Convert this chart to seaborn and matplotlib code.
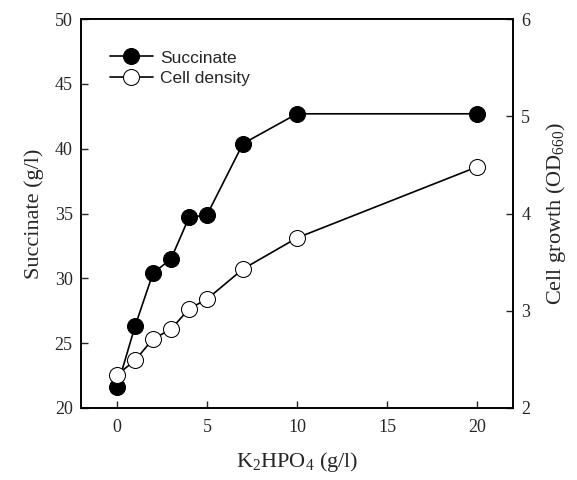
import pandas as pd
import seaborn as sns
import matplotlib.pyplot as plt

# K2HPO4 concentration (g/l)
k2hpo4 = [0, 1, 2, 3, 4, 5, 7, 10, 20]
succinate = [21.6, 26.3, 30.4, 31.5, 34.7, 34.9, 40.4, 42.7, 42.7]
cell_density = [2.34, 2.49, 2.71, 2.81, 3.02, 3.12, 3.43, 3.75, 4.48]

df = pd.DataFrame({'K2HPO4': k2hpo4, 'Succinate': succinate, 'OD': cell_density})

sns.set_style('ticks')
plt.rcParams['font.family'] = ['Liberation Serif', 'DejaVu Serif']
plt.rcParams['mathtext.fontset'] = 'custom'
plt.rcParams['mathtext.rm'] = 'Liberation Serif'
plt.rcParams['mathtext.it'] = 'Liberation Serif:italic'
plt.rcParams['mathtext.bf'] = 'Liberation Serif:bold'

fig = plt.figure(figsize=(5.77, 4.8), dpi=100)
ax = fig.add_axes([0.1404, 0.15, 0.7486, 0.81])
ax2 = ax.twinx()

sns.lineplot(data=df, x='K2HPO4', y='Succinate', ax=ax, color='black',
             marker='o', markersize=11.5, markerfacecolor='black',
             markeredgecolor='black', linewidth=1.2, label='Succinate', legend=False)
sns.lineplot(data=df, x='K2HPO4', y='OD', ax=ax2, color='black',
             marker='o', markersize=11.5, markerfacecolor='white',
             markeredgecolor='black', linewidth=1.2, label='Cell density', legend=False)

ax.set_xlim(-2, 22)
ax.set_ylim(20, 50)
ax2.set_ylim(2, 6)
ax.set_xticks([0, 5, 10, 15, 20])
ax.set_yticks([20, 25, 30, 35, 40, 45, 50])
ax2.set_yticks([2, 3, 4, 5, 6])

for a in (ax, ax2):
    a.tick_params(direction='in', labelsize=13, width=1, length=5)
    for s in a.spines.values():
        s.set_linewidth(1.2)
        s.set_color('black')
ax.tick_params(axis='x', pad=8)
ax.tick_params(axis='y', pad=6)
ax2.tick_params(axis='y', pad=6)

ax.set_xlabel(r'K$_\mathrm{2}$HPO$_\mathrm{4}$ (g/l)', fontsize=16, labelpad=10)
ax.set_ylabel('Succinate (g/l)', fontsize=16, labelpad=8)
ax2.set_ylabel(r'Cell growth (OD$_\mathrm{660}$)', fontsize=16, labelpad=10)

h1, l1 = ax.get_legend_handles_labels()
h2, l2 = ax2.get_legend_handles_labels()
ax.legend(h1 + h2, l1 + l2, loc='upper left', bbox_to_anchor=(0.03, 0.96),
          frameon=False, prop={'family': 'Liberation Sans', 'size': 12.5},
          handlelength=2.5, handletextpad=0.4, labelspacing=0.3)

fig.savefig('out.png', dpi=100)
